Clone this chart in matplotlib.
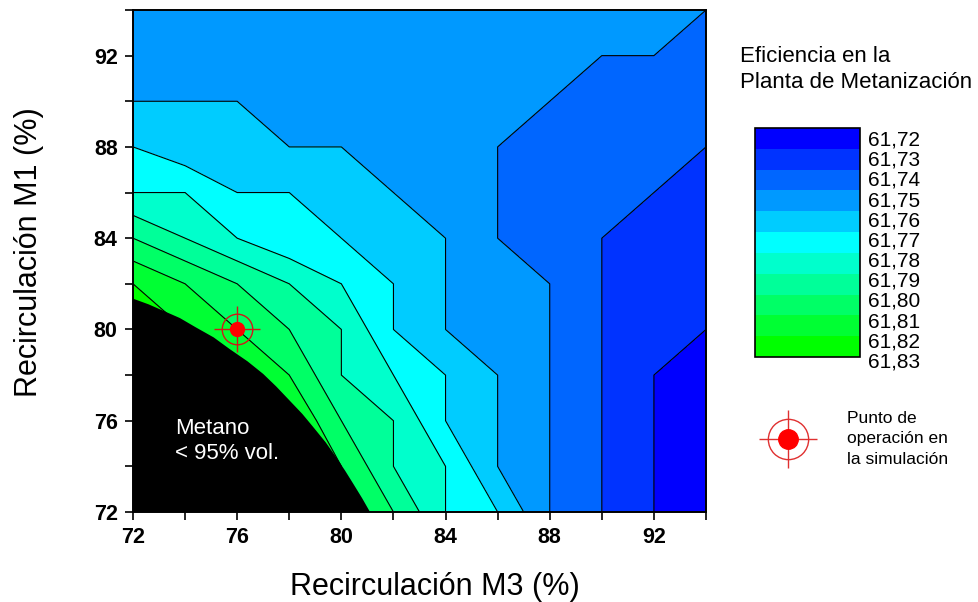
import numpy as np
import matplotlib.pyplot as plt
from matplotlib.colors import ListedColormap, BoundaryNorm
from matplotlib.transforms import ScaledTranslation

plt.rcParams['font.family'] = ['Liberation Sans', 'DejaVu Sans']

# Recirculación M3 (eje x) y M1 (eje y), en %
recirc_m3 = [72, 74, 76, 78, 80, 82, 84, 86, 88, 90, 92, 94]
recirc_m1 = [72, 74, 76, 78, 80, 82, 84, 86, 88, 90, 92, 94]

# Eficiencia de la planta (%), una fila por valor de M1 (de 72 a 94)
ef_m1_72 = [61.829, 61.829, 61.829, 61.82, 61.81, 61.80, 61.78, 61.77, 61.75, 61.74, 61.73, 61.725]
ef_m1_74 = [61.829, 61.829, 61.829, 61.82, 61.81, 61.79, 61.78, 61.76, 61.75, 61.74, 61.73, 61.725]
ef_m1_76 = [61.829, 61.829, 61.829, 61.821, 61.80, 61.79, 61.77, 61.76, 61.75, 61.74, 61.73, 61.725]
ef_m1_78 = [61.829, 61.829, 61.825, 61.81, 61.79, 61.78, 61.77, 61.76, 61.75, 61.74, 61.73, 61.725]
ef_m1_80 = [61.829, 61.82, 61.81, 61.80, 61.79, 61.77, 61.76, 61.755, 61.75, 61.74, 61.734, 61.73]
ef_m1_82 = [61.82, 61.81, 61.80, 61.79, 61.78, 61.77, 61.76, 61.755, 61.75, 61.74, 61.735, 61.7325]
ef_m1_84 = [61.80, 61.79, 61.78, 61.772, 61.77, 61.765, 61.76, 61.75, 61.745, 61.74, 61.7375, 61.735]
ef_m1_86 = [61.78, 61.78, 61.77, 61.77, 61.765, 61.76, 61.755, 61.75, 61.7467, 61.743, 61.74, 61.7375]
ef_m1_88 = [61.77, 61.763, 61.765, 61.76, 61.76, 61.7567, 61.7533, 61.75, 61.7475, 61.745, 61.743, 61.74]
ef_m1_90 = [61.76, 61.76, 61.76, 61.757, 61.756, 61.755, 61.753, 61.7515, 61.75, 61.7475, 61.7467, 61.7433]
ef_m1_92 = [61.757, 61.757, 61.757, 61.755, 61.754, 61.753, 61.752, 61.7515, 61.751, 61.75, 61.75, 61.7467]
ef_m1_94 = [61.756, 61.756, 61.756, 61.755, 61.754, 61.753, 61.7525, 61.752, 61.7515, 61.751, 61.751, 61.75]

niveles = [61.72, 61.73, 61.74, 61.75, 61.76, 61.77, 61.78, 61.79, 61.80, 61.81, 61.82, 61.83]

# Zona con metano < 95% vol. (borde)
metano_m3 = [72, 72, 72.6, 73.2, 73.8, 74.4, 75.1, 75.7, 76.4, 77.0, 77.5, 78.0,
             78.5, 78.9, 79.4, 79.8, 80.15, 80.45, 80.8, 81.1]
metano_m1 = [72, 81.35, 81.1, 80.8, 80.5, 80.1, 79.65, 79.15, 78.6, 78.05, 77.5, 76.9,
             76.3, 75.75, 75.05, 74.4, 73.8, 73.25, 72.6, 72]

# Punto de operacion en la simulacion
punto_m3 = [76]
punto_m1 = [80]

Z = np.array([ef_m1_72, ef_m1_74, ef_m1_76, ef_m1_78, ef_m1_80, ef_m1_82,
              ef_m1_84, ef_m1_86, ef_m1_88, ef_m1_90, ef_m1_92, ef_m1_94])
X, Y = np.meshgrid(recirc_m3, recirc_m1)

colores = ['#0000ff', '#0033ff', '#0066ff', '#0099ff', '#00ccff', '#00ffff',
           '#00ffcc', '#00ff99', '#00ff66', '#00ff33', '#00ff00']
cmap = ListedColormap(colores)
norm = BoundaryNorm(niveles, cmap.N)

fig = plt.figure(figsize=(9.79, 6.02), dpi=100)
ax = fig.add_axes([133 / 979, 1 - 512 / 602, 573 / 979, 502 / 602])

cf = ax.contourf(X, Y, Z, levels=niveles, cmap=cmap, norm=norm)
ax.contour(X, Y, Z, levels=niveles[1:-1], colors='black', linewidths=0.8)

ax.fill(metano_m3, metano_m1, color='black', zorder=3, lw=0)
ax.text(73.6, 76.1, 'Metano\n< 95% vol.', color='white', fontsize=16,
        ha='left', va='top', zorder=4, linespacing=1.2)

rojo = '#d01818'
ax.plot(punto_m3, punto_m1, marker='+', ms=33, mew=1, color=rojo, ls='none', zorder=5)
ax.plot(punto_m3, punto_m1, marker='o', ms=22, mfc='none', mec=rojo, mew=1, ls='none', zorder=5)
ax.plot(punto_m3, punto_m1, marker='o', ms=10, color='red', ls='none', zorder=6)

ax.set_xlim(72, 94)
ax.set_ylim(72, 94)
ax.set_xticks([72, 76, 80, 84, 88, 92])
ax.set_yticks([72, 76, 80, 84, 88, 92])
ax.set_xticks([74, 78, 82, 86, 90, 94], minor=True)
ax.set_yticks([74, 78, 82, 86, 90, 94], minor=True)
ax.tick_params(which='both', direction='out', length=6, width=1.2, labelsize=15.5, pad=5)
for lab in ax.get_xticklabels() + ax.get_yticklabels():
    lab.set_fontweight('bold')
for sp in ax.spines.values():
    sp.set_linewidth(1.4)

ax.set_xlabel('Recirculación M3 (%)', fontsize=22)
ax.set_ylabel('Recirculación M1 (%)', fontsize=22)
ax.xaxis.set_label_coords(0.526, -0.12)
ax.yaxis.set_label_coords(-0.155, 0.518)

# Barra de colores
cax = fig.add_axes([755 / 979, 1 - 357 / 602, 105 / 979, 229 / 602])
cb = fig.colorbar(cf, cax=cax, ticks=niveles, drawedges=True)
cb.outline.set_linewidth(1.2)
cb.dividers.set_linewidth(1.0)
cax.invert_yaxis()
cax.tick_params(length=0, labelsize=15, pad=6)
cax.set_yticklabels([f'{v:.2f}'.replace('.', ',') for v in niveles])
for k, lab in enumerate(cax.get_yticklabels()):
    dy = (10 - 7 * k / 11) / 100
    lab.set_transform(lab.get_transform() + ScaledTranslation(0, -dy, fig.dpi_scale_trans))

fig.text(740 / 979, 1 - 46 / 602, 'Eficiencia en la\nPlanta de Metanización',
         fontsize=16, ha='left', va='top', linespacing=1.3)

# Leyenda del punto de operacion
lax = fig.add_axes([0.77, 0.2, 0.07, 0.14])
lax.axis('off')
lax.set_xlim(-1, 1)
lax.set_ylim(-1, 1)
lax.plot([0], [0], marker='+', ms=42, mew=1, color='#e03030', ls='none')
lax.plot([0], [0], marker='o', ms=29, mfc='none', mec='#e03030', mew=1, ls='none')
lax.plot([0], [0], marker='o', ms=14, color='red', ls='none')
fig.text(847 / 979, 1 - 411 / 602, 'Punto de\noperación en\nla simulación',
         fontsize=12.5, ha='left', va='top', linespacing=1.45)

fig.savefig('out.png', dpi=100)
